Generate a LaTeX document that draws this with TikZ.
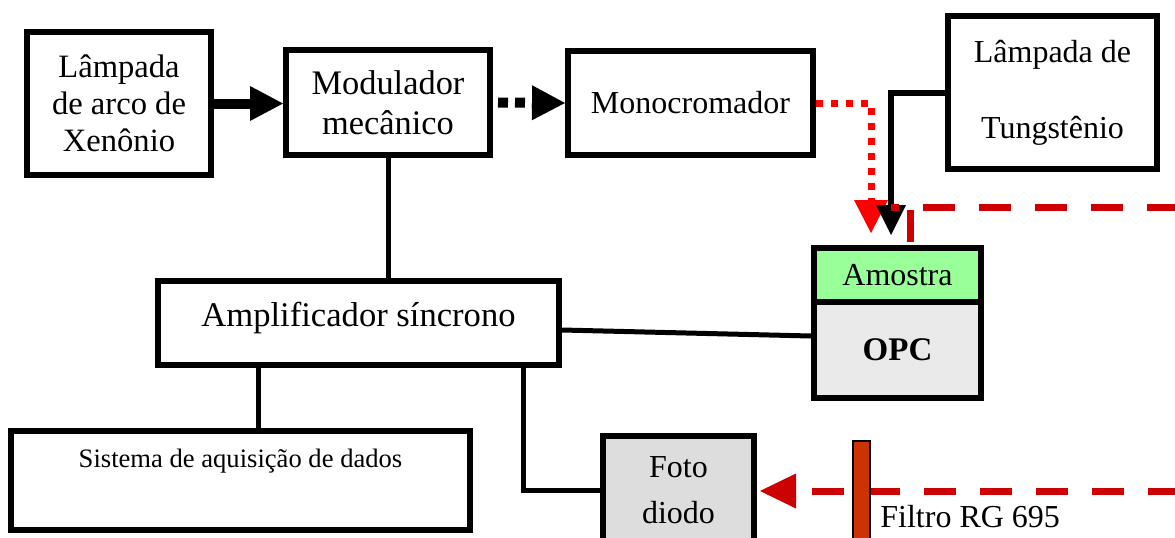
\documentclass[tikz,border=0pt]{standalone}
\usepackage{fontspec}
\setmainfont{Liberation Serif}
\usetikzlibrary{arrows.meta,calc}
\definecolor{sampleGreen}{HTML}{99FF99}
\definecolor{opcGray}{HTML}{EAEAEA}
\definecolor{fotoGray}{HTML}{DDDDDD}
\definecolor{dotRed}{HTML}{FF0000}
\definecolor{dashRed}{HTML}{CC0000}
\definecolor{filterRed}{HTML}{CC3300}
\begin{document}
\begin{tikzpicture}[x=0.5pt,y=-0.5pt,
  box/.style={draw=black, line width=3pt, fill=white, align=center, inner sep=0pt,
    font=\fontsize{16}{19}\selectfont},
  link/.style={line width=2.5pt},
  bigarrow/.style={line width=5pt, -{Triangle[length=16.5pt,width=17.5pt,line width=0pt]}},
  redline/.style={line width=3.5pt, color=dashRed, dash pattern=on 16pt off 12pt}]
\useasboundingbox (0,0) rectangle (1175,537);
\fill[white] (0,0) rectangle (1175,537);

% instrument blocks
\node[box, minimum width=92pt, minimum height=71.5pt, font=\fontsize{16.3}{18.5}\selectfont]
  (xenon) at (119,103.5) {Lâmpada\\de arco de\\Xenônio};
\node[box, minimum width=102pt, minimum height=52.5pt, font=\fontsize{17.2}{20}\selectfont]
  (modul) at (388,102.5) {Modulador\\mecânico};
\node[box, minimum width=122.5pt, minimum height=52pt] (mono) at (690.5,103) {Monocromador};
\node[box, minimum width=104.5pt, minimum height=76.5pt]
  (tung) at (1052.5,92.5) {Lâmpada de\\[19pt]Tungstênio};
\node[box, fill=sampleGreen, minimum width=83.5pt, minimum height=27pt]
  (amostra) at (897.5,275) {Amostra};
\node[box, fill=opcGray, minimum width=83.5pt, minimum height=48pt,
  font=\fontsize{16.5}{19}\selectfont\bfseries, text height=12pt, text depth=2pt]
  (opc) at (897.5,350) {OPC};
\node[box, minimum width=200.5pt, minimum height=42pt, font=\fontsize{17.3}{20}\selectfont,
  text height=10pt, text depth=7pt]
  (amp) at (358.5,323) {Amplificador síncrono};
\node[box, minimum width=229.5pt, minimum height=49.5pt, font=\fontsize{13.3}{15}\selectfont,
  text height=2pt, text depth=15.5pt]
  (daq) at (240.5,480.5) {Sistema de aquisição de dados};
\node[box, fill=fotoGray, minimum width=75.5pt, minimum height=54.5pt,
  font=\fontsize{16}{23}\selectfont]
  (foto) at (678.5,490.5) {Foto\\diodo};

% optical paths
\draw[bigarrow] (xenon.east) -- (xenon.east -| modul.west);
\draw[bigarrow, dash pattern=on 5pt off 3.5pt, dash phase=6pt] (modul.east) -- (mono.west);

\coordinate (redin) at (871,233);
\coordinate (blackin) at (891,235);
\draw[line width=3.5pt, color=dotRed, dash pattern=on 3.5pt off 4pt,
  -{Triangle[length=16.5pt,width=17pt,line width=0pt]}] (mono.east) -| (redin);
\draw[line width=3pt, -{Triangle[length=15pt,width=15pt,line width=0pt]}] (tung.west) -| (blackin);

\coordinate (topdash) at (891,207);
\coordinate (topend) at (1180,207);
\draw[redline, dash phase=12pt] (topdash) -- (topend);
\coordinate (barTop) at (910,210);
\draw[line width=3.5pt, color=dashRed] (barTop) -- ($(barTop |- amostra.north)+(0,-3)$);

\coordinate (botend) at (1180,491);
\draw[redline, dash phase=20pt,
  {Triangle[length=18pt,width=17.5pt,line width=0pt]}-] ($(foto.east)+(3,0.5)$) -- (botend);
\node[draw=black, line width=0.8pt, fill=filterRed, minimum width=8.5pt, minimum height=52pt,
  inner sep=0pt] (filtro) at (861.5,493) {};
\node[anchor=base west, font=\fontsize{16}{19}\selectfont, inner sep=0pt]
  (filtrolabel) at (880,527) {Filtro RG 695};

% electrical connections
\draw[link] (modul.south) -- (modul.south |- amp.north);
\draw[link] ($(amp.east)+(0,7)$) -- ($(opc.west)+(0,-14)$);
\coordinate (a1) at ($(amp.south west)+(103,0)$);
\draw[link] (a1) -- (a1 |- daq.north);
\coordinate (a2) at ($(amp.south west)+(368,0)$);
\draw[link] (a2) |- (foto.west);
\end{tikzpicture}
\end{document}
